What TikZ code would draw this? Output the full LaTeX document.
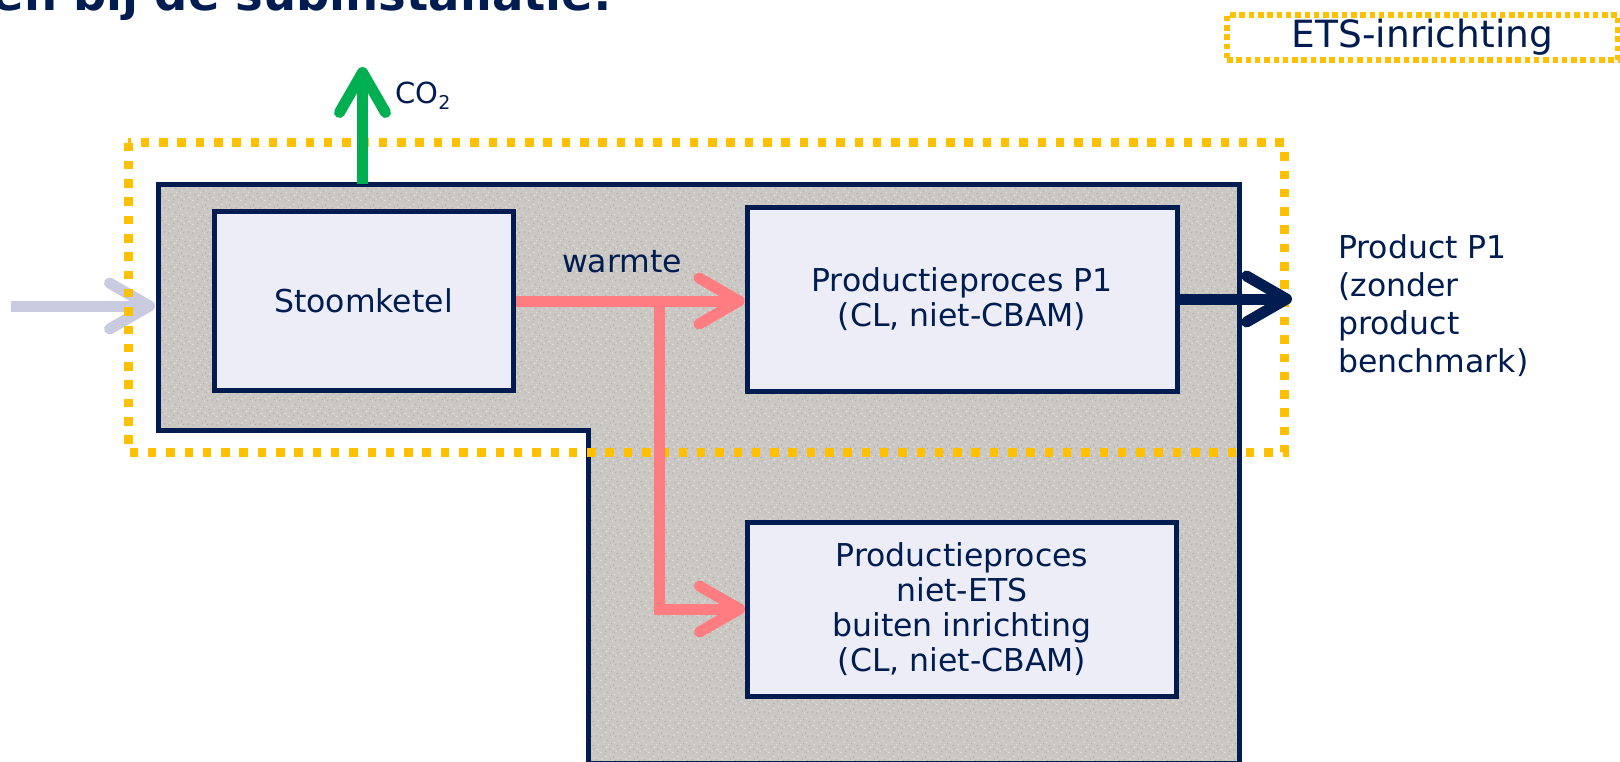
\documentclass[tikz,border=0pt]{standalone}
\usepackage{fontspec}
\setmainfont{DejaVu Sans}
\usetikzlibrary{arrows.meta,patterns}
\definecolor{navy}{RGB}{0,28,80}
\definecolor{boxfill}{RGB}{236,237,246}
\definecolor{texture}{RGB}{203,200,196}
\definecolor{speckL}{RGB}{226,224,221}
\definecolor{speckD}{RGB}{178,175,171}
\definecolor{etsyellow}{RGB}{255,192,0}
\definecolor{heatred}{RGB}{255,124,128}
\definecolor{co2green}{RGB}{0,176,80}
\definecolor{inlight}{RGB}{201,204,224}
\pgfdeclarepatternformonly{speckleL}{\pgfpointorigin}{\pgfpoint{24pt}{24pt}}{\pgfpoint{24pt}{24pt}}{%
  \foreach \px/\py in {2/3,7/15,11/8,15/20,19/4,22/13,4/21,13/1,9/18,17/11,1/10,20/22,6/6,14/14,23/18}{%
    \pgfpathcircle{\pgfpoint{\px pt}{\py pt}}{0.9pt}}%
  \pgfusepath{fill}}
\pgfdeclarepatternformonly{speckleD}{\pgfpointorigin}{\pgfpoint{24pt}{24pt}}{\pgfpoint{24pt}{24pt}}{%
  \foreach \px/\py in {5/8,10/13,14/5,18/17,22.5/9,3/16,8/22.5,12/19,16/1.5,21/2,6/11,19/14,1/1,11/3,15/10}{%
    \pgfpathcircle{\pgfpoint{\px pt}{\py pt}}{0.8pt}}%
  \pgfusepath{fill}}
\tikzset{
  procbox/.style={draw=navy, line width=5pt, fill=boxfill, text=navy, align=center,
    font=\fontsize{31.5}{35}\selectfont, inner sep=0pt},
  etsline/.style={draw=etsyellow, line width=9pt, dash pattern=on 8.5pt off 9.8pt},
  etslegend/.style={draw=etsyellow, line width=6pt, dash pattern=on 5.5pt off 3.8pt,
    text=navy, font=\fontsize{37.5}{40}\selectfont, inner sep=0pt},
  flow/.style={line width=11pt, line cap=butt, line join=miter,
    -{Straight Barb[length=40pt, width=46pt, round]}},
  lbl/.style={text=navy, inner sep=0pt, font=\fontsize{31.5}{38}\selectfont},
}
\begin{document}
\begin{tikzpicture}[x=1pt,y=-1pt]
\useasboundingbox (0,0) rectangle (1620,761);
\clip (0,0) rectangle (1620,761);
\fill[white] (0,0) rectangle (1620,761);

% title (cut off at the top)
\node[anchor=base east, inner sep=0pt, text=navy, font=\bfseries\fontsize{46.5}{52}\selectfont] (title) at (612,10) {en bij de subinstallatie:};

% sub-installation area
\path[fill=texture]
  (158.5,184.5) -- (1239.5,184.5) -- (1239.5,763) -- (588,763) -- (588,430) -- (158.5,430) -- cycle;
\path[pattern=speckleL, pattern color=speckL]
  (158.5,184.5) -- (1239.5,184.5) -- (1239.5,763) -- (588,763) -- (588,430) -- (158.5,430) -- cycle;
\path[pattern=speckleD, pattern color=speckD]
  (158.5,184.5) -- (1239.5,184.5) -- (1239.5,763) -- (588,763) -- (588,430) -- (158.5,430) -- cycle;
\draw[draw=navy, line width=5pt, line join=miter]
  (158.5,184.5) -- (1239.5,184.5) -- (1239.5,763) -- (588,763) -- (588,430) -- (158.5,430) -- cycle;

% boxes
\node[procbox, minimum width=299pt, minimum height=179pt] (stoom) at (363.5,301) {Stoomketel};
\node[procbox, minimum width=430pt, minimum height=184pt] (p1) at (962,299) {Productieproces P1\\(CL, niet-CBAM)};
\node[procbox, minimum width=429pt, minimum height=174pt] (nets) at (962,609) {Productieproces\\niet-ETS\\buiten inrichting\\(CL, niet-CBAM)};

% incoming arrow
\coordinate (inL) at (11,306);
\coordinate (inR) at (155,306);
\draw[flow, draw=inlight] (inL) -- (inR);

% ETS installation boundary
\draw[etsline] (128,142.5) rectangle (1284,452);

% heat
\draw[flow, draw=heatred] (stoom.east) -- (stoom.east -| p1.west);
\coordinate (split) at (659,301);
\draw[flow, draw=heatred] (split) |- (nets.west);

% product out
\coordinate (p1out) at (1292,299);
\draw[flow, draw=navy] (p1.east) -- (p1out);

% CO2
\coordinate (co2bot) at (362.5,184);
\coordinate (co2top) at (362.5,67);
\draw[flow, draw=co2green] (co2bot) -- (co2top);

% labels
\node[lbl, anchor=base west, font=\fontsize{29}{32}\selectfont] (co2) at (395,103) {CO\raisebox{-6pt}{\fontsize{19}{19}\selectfont 2}};
\node[lbl, anchor=base] (warm) at (622,272) {warmte};
\node[lbl, anchor=north west, align=left] (prod) at (1338,234) {Product P1\\(zonder\\product\\benchmark)};

% legend
\node[etslegend, minimum width=391pt, minimum height=45pt] (legend) at (1422.5,37.5) {ETS-inrichting};
\end{tikzpicture}
\end{document}
